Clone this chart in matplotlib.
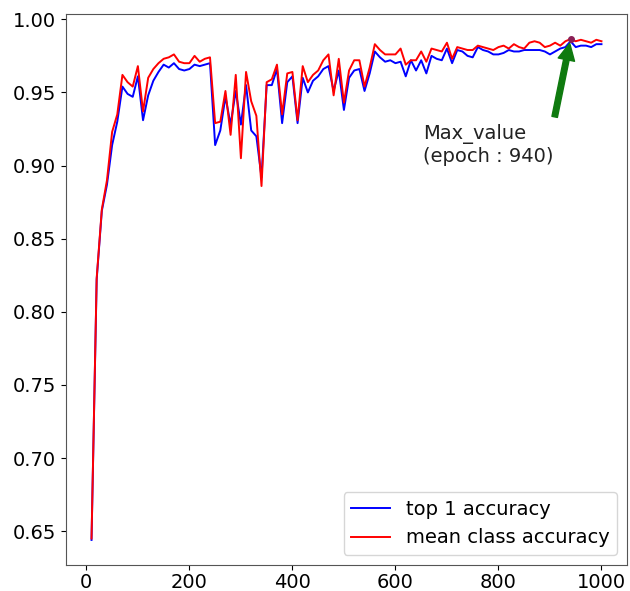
import matplotlib
matplotlib.use("Agg")
import matplotlib.pyplot as plt

epochs = list(range(10, 1010, 10))

top1_acc = [
    0.644, 0.822, 0.869, 0.887, 0.914, 0.930, 0.954, 0.949, 0.947, 0.961,
    0.931, 0.948, 0.958, 0.964, 0.969, 0.967, 0.970, 0.966, 0.965, 0.966,
    0.969, 0.968, 0.969, 0.970, 0.914, 0.924, 0.947, 0.928, 0.951, 0.928,
    0.955, 0.924, 0.920, 0.892, 0.955, 0.955, 0.966, 0.929, 0.957, 0.961,
    0.929, 0.960, 0.950, 0.958, 0.961, 0.966, 0.968, 0.951, 0.965, 0.938,
    0.960, 0.965, 0.966, 0.951, 0.963, 0.978, 0.974, 0.971, 0.972, 0.970,
    0.971, 0.961, 0.972, 0.965, 0.972, 0.963, 0.975, 0.973, 0.972, 0.980,
    0.970, 0.979, 0.978, 0.975, 0.974, 0.981, 0.979, 0.978, 0.976, 0.976,
    0.977, 0.979, 0.978, 0.978, 0.979, 0.979, 0.979, 0.979, 0.978, 0.976,
    0.978, 0.980, 0.981, 0.985, 0.981, 0.982, 0.982, 0.981, 0.983, 0.983,
]

mean_class_acc = [
    0.645, 0.823, 0.870, 0.890, 0.923, 0.935, 0.962, 0.957, 0.954, 0.968,
    0.937, 0.960, 0.966, 0.970, 0.973, 0.974, 0.976, 0.971, 0.970, 0.970,
    0.975, 0.971, 0.973, 0.974, 0.929, 0.930, 0.951, 0.921, 0.962, 0.905,
    0.964, 0.944, 0.934, 0.886, 0.957, 0.959, 0.969, 0.935, 0.963, 0.964,
    0.931, 0.968, 0.957, 0.962, 0.965, 0.972, 0.976, 0.948, 0.973, 0.943,
    0.965, 0.972, 0.972, 0.954, 0.967, 0.983, 0.979, 0.976, 0.976, 0.976,
    0.980, 0.969, 0.972, 0.972, 0.978, 0.971, 0.980, 0.979, 0.978, 0.984,
    0.973, 0.981, 0.980, 0.979, 0.979, 0.982, 0.981, 0.980, 0.979, 0.981,
    0.982, 0.980, 0.983, 0.981, 0.980, 0.984, 0.985, 0.984, 0.981, 0.982,
    0.984, 0.982, 0.985, 0.9865, 0.985, 0.986, 0.985, 0.984, 0.986, 0.985,
]

series_labels = ["top 1 accuracy", "mean class accuracy"]
max_epoch = 940
annot_text = "Max_value\n(epoch : 940)"
annot_text_pos = (653, 0.9025)

fig = plt.figure(figsize=(6.30, 5.91), dpi=100)
ax = fig.add_axes([0.1048, 0.0440, 0.8904, 0.9323])

ax.plot(epochs, top1_acc, color="blue", lw=1.4, label=series_labels[0])
ax.plot(epochs, mean_class_acc, color="red", lw=1.4, label=series_labels[1])

mi = epochs.index(max_epoch)
ax.plot([max_epoch], [mean_class_acc[mi]], "o", color="#8a1f55", ms=4, zorder=5)

ax.annotate(annot_text, xy=(max_epoch, mean_class_acc[mi]), xytext=annot_text_pos,
            fontsize=14, color="#222222",
            arrowprops=dict(facecolor="#0f7a0f", edgecolor="#0f7a0f", shrink=0.05))

ax.tick_params(axis="both", labelsize=14)
ax.tick_params(axis="x", pad=2)
for s in ax.spines.values():
    s.set_color("#555555")
ax.legend(loc="lower right", fontsize=14)

fig.savefig("out.png", dpi=100)
